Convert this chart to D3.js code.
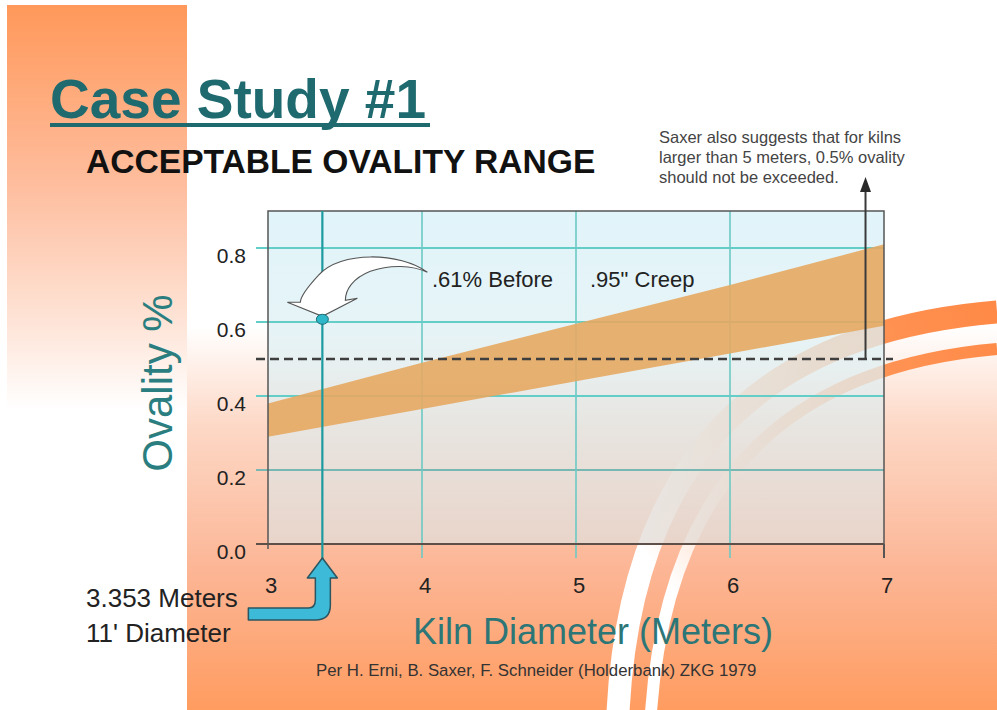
<!DOCTYPE html>
<html><head><meta charset="utf-8">
<script src="https://cdn.jsdelivr.net/npm/d3@7"></script>
<style>
html,body{margin:0;padding:0;background:#fff;}
svg{display:block;font-family:"Liberation Sans",Arial,Helvetica,sans-serif;}
</style>
</head><body>
<svg id="c" width="997" height="710"></svg>
<script>
// ---- data ----
const diameters = [3, 4, 5, 6, 7];
const upperOvality = [0.38, 0.49, 0.595, 0.70, 0.81];
const lowerOvality = [0.29, 0.365, 0.44, 0.515, 0.59];
const xTicks = [3, 4, 5, 6, 7];
const xTickLabels = ["3", "4", "5", "6", "7"];
const yTicks = [0.0, 0.2, 0.4, 0.6, 0.8];
const yTickLabels = ["0.0", "0.2", "0.4", "0.6", "0.8"];
const limitOvality = 0.5;
const noteDiameter = 6.88;
const caseDiameter = 3.353;
const caseOvality = 0.61;
const noteLines = ["Saxer also suggests that for kilns", "larger than 5 meters, 0.5% ovality", "should not be exceeded."];
const caseLines = ["3.353 Meters", "11' Diameter"];

const svg = d3.select("#c");
const defs = svg.append("defs");

function vgrad(id, y1, y2, stops) {
  const g = defs.append("linearGradient").attr("id", id).attr("gradientUnits", "userSpaceOnUse")
    .attr("x1", 0).attr("x2", 0).attr("y1", y1).attr("y2", y2);
  stops.forEach(s => g.append("stop").attr("offset", s[0]).attr("stop-color", s[1]));
}
vgrad("leftG", 5, 410, [[0, "#FF985A"], [0.45, "#FEBE9F"], [0.8, "#FEE6DA"], [1, "#FFFFFF"]]);
vgrad("mainG", 0, 710, [[0, "#FFFFFF"], [0.46, "#FFFFFF"], [0.6, "#FDD8C6"], [0.8, "#FCB696"], [1, "#FF9C60"]]);
vgrad("plotG", 212, 544, [[0, "#D8F1F8"], [0.45, "#E0F0F3"], [1, "#E3DCD7"]]);
const sg = defs.append("linearGradient").attr("id", "swG").attr("gradientUnits", "userSpaceOnUse")
  .attr("x1", 997).attr("y1", 300).attr("x2", 650).attr("y2", 560);
[[0, "#FF8946"], [0.4, "#FF9658"], [1, "#FFFFFF"]].forEach(s => sg.append("stop").attr("offset", s[0]).attr("stop-color", s[1]));

// ---- background ----
svg.append("rect").attr("x", 7).attr("y", 5).attr("width", 180).attr("height", 405).attr("fill", "url(#leftG)");
svg.append("rect").attr("x", 187).attr("y", 0).attr("width", 810).attr("height", 710).attr("fill", "url(#mainG)");
svg.append("path").attr("d", "M 997 312 C 780 330, 632 440, 618 712")
  .attr("fill", "none").attr("stroke", "url(#swG)").attr("stroke-width", 23);
svg.append("path").attr("d", "M 997 349 C 800 366, 668 470, 651 712")
  .attr("fill", "none").attr("stroke", "url(#swG)").attr("stroke-width", 12);

// ---- scales ----
const x = d3.scaleLinear().domain([3, 7]).range([268, 884]);
const y = d3.scaleLinear().domain([0, 0.9]).range([544, 211]);
const [x0, x1] = x.range();
const [yb, yt] = y.range();

// plot background
svg.append("rect").attr("x", x0).attr("y", yt).attr("width", x1 - x0).attr("height", yb - yt)
  .attr("fill", "url(#plotG)").attr("fill-opacity", 0.76);

// grid
const g = svg.append("g");
yTicks.filter(t => t > 0).forEach(t => {
  g.append("line").attr("x1", x0 - 12).attr("x2", x1).attr("y1", y(t)).attr("y2", y(t))
    .attr("stroke", t === 0.2 ? "#79B8B2" : "#63CEC7").attr("stroke-width", 2);
});
xTicks.filter(t => t > 3 && t < 7).forEach(t => {
  g.append("line").attr("x1", x(t)).attr("x2", x(t)).attr("y1", yt).attr("y2", yb + 14)
    .attr("stroke", "#6CC9C4").attr("stroke-width", 1.6);
});

// band
const bandData = diameters.map((d, i) => ({d, hi: upperOvality[i], lo: lowerOvality[i]}));
svg.append("path").datum(bandData)
  .attr("d", d3.area().x(d => x(d.d)).y0(d => y(d.lo)).y1(d => y(d.hi)))
  .attr("fill", "#E6A862").attr("fill-opacity", 0.9);

// frame
svg.append("rect").attr("x", x0).attr("y", yt).attr("width", x1 - x0).attr("height", yb - yt)
  .attr("fill", "none").attr("stroke", "#555").attr("stroke-width", 1.5);
svg.append("line").attr("x1", x0 - 12).attr("x2", x1).attr("y1", yb).attr("y2", yb)
  .attr("stroke", "#5E5048").attr("stroke-width", 2);
svg.append("line").attr("x1", x1).attr("x2", x1).attr("y1", yb).attr("y2", yb + 14)
  .attr("stroke", "#555").attr("stroke-width", 2);
svg.append("line").attr("x1", x0).attr("x2", x0).attr("y1", yb).attr("y2", yb + 5)
  .attr("stroke", "#555").attr("stroke-width", 1.5);

// limit dashed line
svg.append("line").attr("x1", x0 - 12).attr("x2", x1 + 9).attr("y1", y(limitOvality)).attr("y2", y(limitOvality))
  .attr("stroke", "#3E3E3E").attr("stroke-width", 2.5).attr("stroke-dasharray", "9,5");

// note arrow
const nx = x(noteDiameter);
svg.append("line").attr("x1", nx).attr("x2", nx).attr("y1", y(limitOvality)).attr("y2", 190)
  .attr("stroke", "#3A3A3A").attr("stroke-width", 2);
svg.append("path").attr("d", `M ${nx} 177 L ${nx - 5.5} 192 L ${nx + 5.5} 192 Z`).attr("fill", "#2A2A2A");

// case vertical line
const px = x(caseDiameter), py = y(caseOvality);
svg.append("line").attr("x1", px).attr("x2", px).attr("y1", yt).attr("y2", yb + 16)
  .attr("stroke", "#1B9AA0").attr("stroke-width", 2.2);

// white curved arrow
svg.append("path")
  .attr("d", `M ${px + 105} ${py - 46} C ${px + 78} ${py - 66}, ${px + 18} ${py - 68}, ${px - 4} ${py - 43}
    C ${px - 16} ${py - 30}, ${px - 22} ${py - 22}, ${px - 22} ${py - 16}
    L ${px - 35} ${py - 16} L ${px} ${py - 2} L ${px + 35} ${py - 20} L ${px + 23} ${py - 18}
    C ${px + 23} ${py - 28}, ${px + 30} ${py - 40}, ${px + 48} ${py - 47}
    C ${px + 68} ${py - 54}, ${px + 90} ${py - 53}, ${px + 105} ${py - 46} Z`)
  .attr("fill", "#FFFFFF").attr("stroke", "#555").attr("stroke-width", 1.1);

// dot
svg.append("ellipse").attr("cx", px).attr("cy", py + 1).attr("rx", 6).attr("ry", 5)
  .attr("fill", "#2DB7C8").attr("stroke", "#1D6B75").attr("stroke-width", 1);

// blue bent arrow
const tipY = yb + 14;
svg.append("path")
  .attr("d", `M ${px} ${tipY} L ${px + 15} ${tipY + 20} L ${px + 8} ${tipY + 20} L ${px + 8} ${tipY + 47}
    Q ${px + 8} ${tipY + 62} ${px - 7} ${tipY + 62} L ${px - 74} ${tipY + 62} L ${px - 74} ${tipY + 50}
    L ${px - 14} ${tipY + 50} Q ${px - 7} ${tipY + 50} ${px - 7} ${tipY + 42} L ${px - 7} ${tipY + 20}
    L ${px - 15} ${tipY + 20} Z`)
  .attr("fill", "#3CBAD8").attr("stroke", "#2B5560").attr("stroke-width", 1.5).attr("stroke-linejoin", "round");

// tick labels
svg.append("g").selectAll("text").data(yTicks).join("text")
  .attr("x", 246).attr("y", d => y(d) + 15).attr("text-anchor", "end")
  .attr("font-size", 21).attr("fill", "#222").text((d, i) => yTickLabels[i]);
svg.append("g").selectAll("text").data(xTicks).join("text")
  .attr("x", d => x(d) + 3).attr("y", 593).attr("text-anchor", "middle")
  .attr("font-size", 22).attr("fill", "#222").text((d, i) => xTickLabels[i]);

// axis titles
svg.append("text").attr("transform", "translate(172,383) rotate(-90)").attr("text-anchor", "middle")
  .attr("font-size", 42).attr("fill", "#2A7E80").text("Ovality %");
svg.append("text").attr("x", 413).attr("y", 644).attr("font-size", 36).attr("fill", "#2D7677")
  .text("Kiln Diameter (Meters)");

// titles
svg.append("text").attr("x", 50).attr("y", 118).attr("font-size", 55).attr("font-weight", "bold")
  .attr("fill", "#1F6A6F").text("Case Study #1");
svg.append("rect").attr("x", 50).attr("y", 123).attr("width", 380).attr("height", 4).attr("fill", "#1F6A6F");
svg.append("text").attr("x", 86).attr("y", 173).attr("font-size", 33.6).attr("font-weight", "bold")
  .attr("fill", "#111").text("ACCEPTABLE OVALITY RANGE");

// annotations
svg.append("g").selectAll("text").data(noteLines).join("text")
  .attr("x", 659).attr("y", (d, i) => 143 + i * 20).attr("font-size", 16.5).attr("fill", "#444").text(d => d);
svg.append("text").attr("x", 432).attr("y", 287).attr("font-size", 22).attr("fill", "#222").text(".61% Before");
svg.append("text").attr("x", 590).attr("y", 287).attr("font-size", 22).attr("fill", "#222").text('.95" Creep');
svg.append("g").selectAll("text").data(caseLines).join("text")
  .attr("x", 86).attr("y", (d, i) => 607 + i * 35).attr("font-size", 26).attr("fill", "#222").text(d => d);
svg.append("text").attr("x", 316).attr("y", 676).attr("font-size", 16.8).attr("fill", "#333")
  .text("Per H. Erni, B. Saxer, F. Schneider (Holderbank) ZKG 1979");
</script>
</body></html>
